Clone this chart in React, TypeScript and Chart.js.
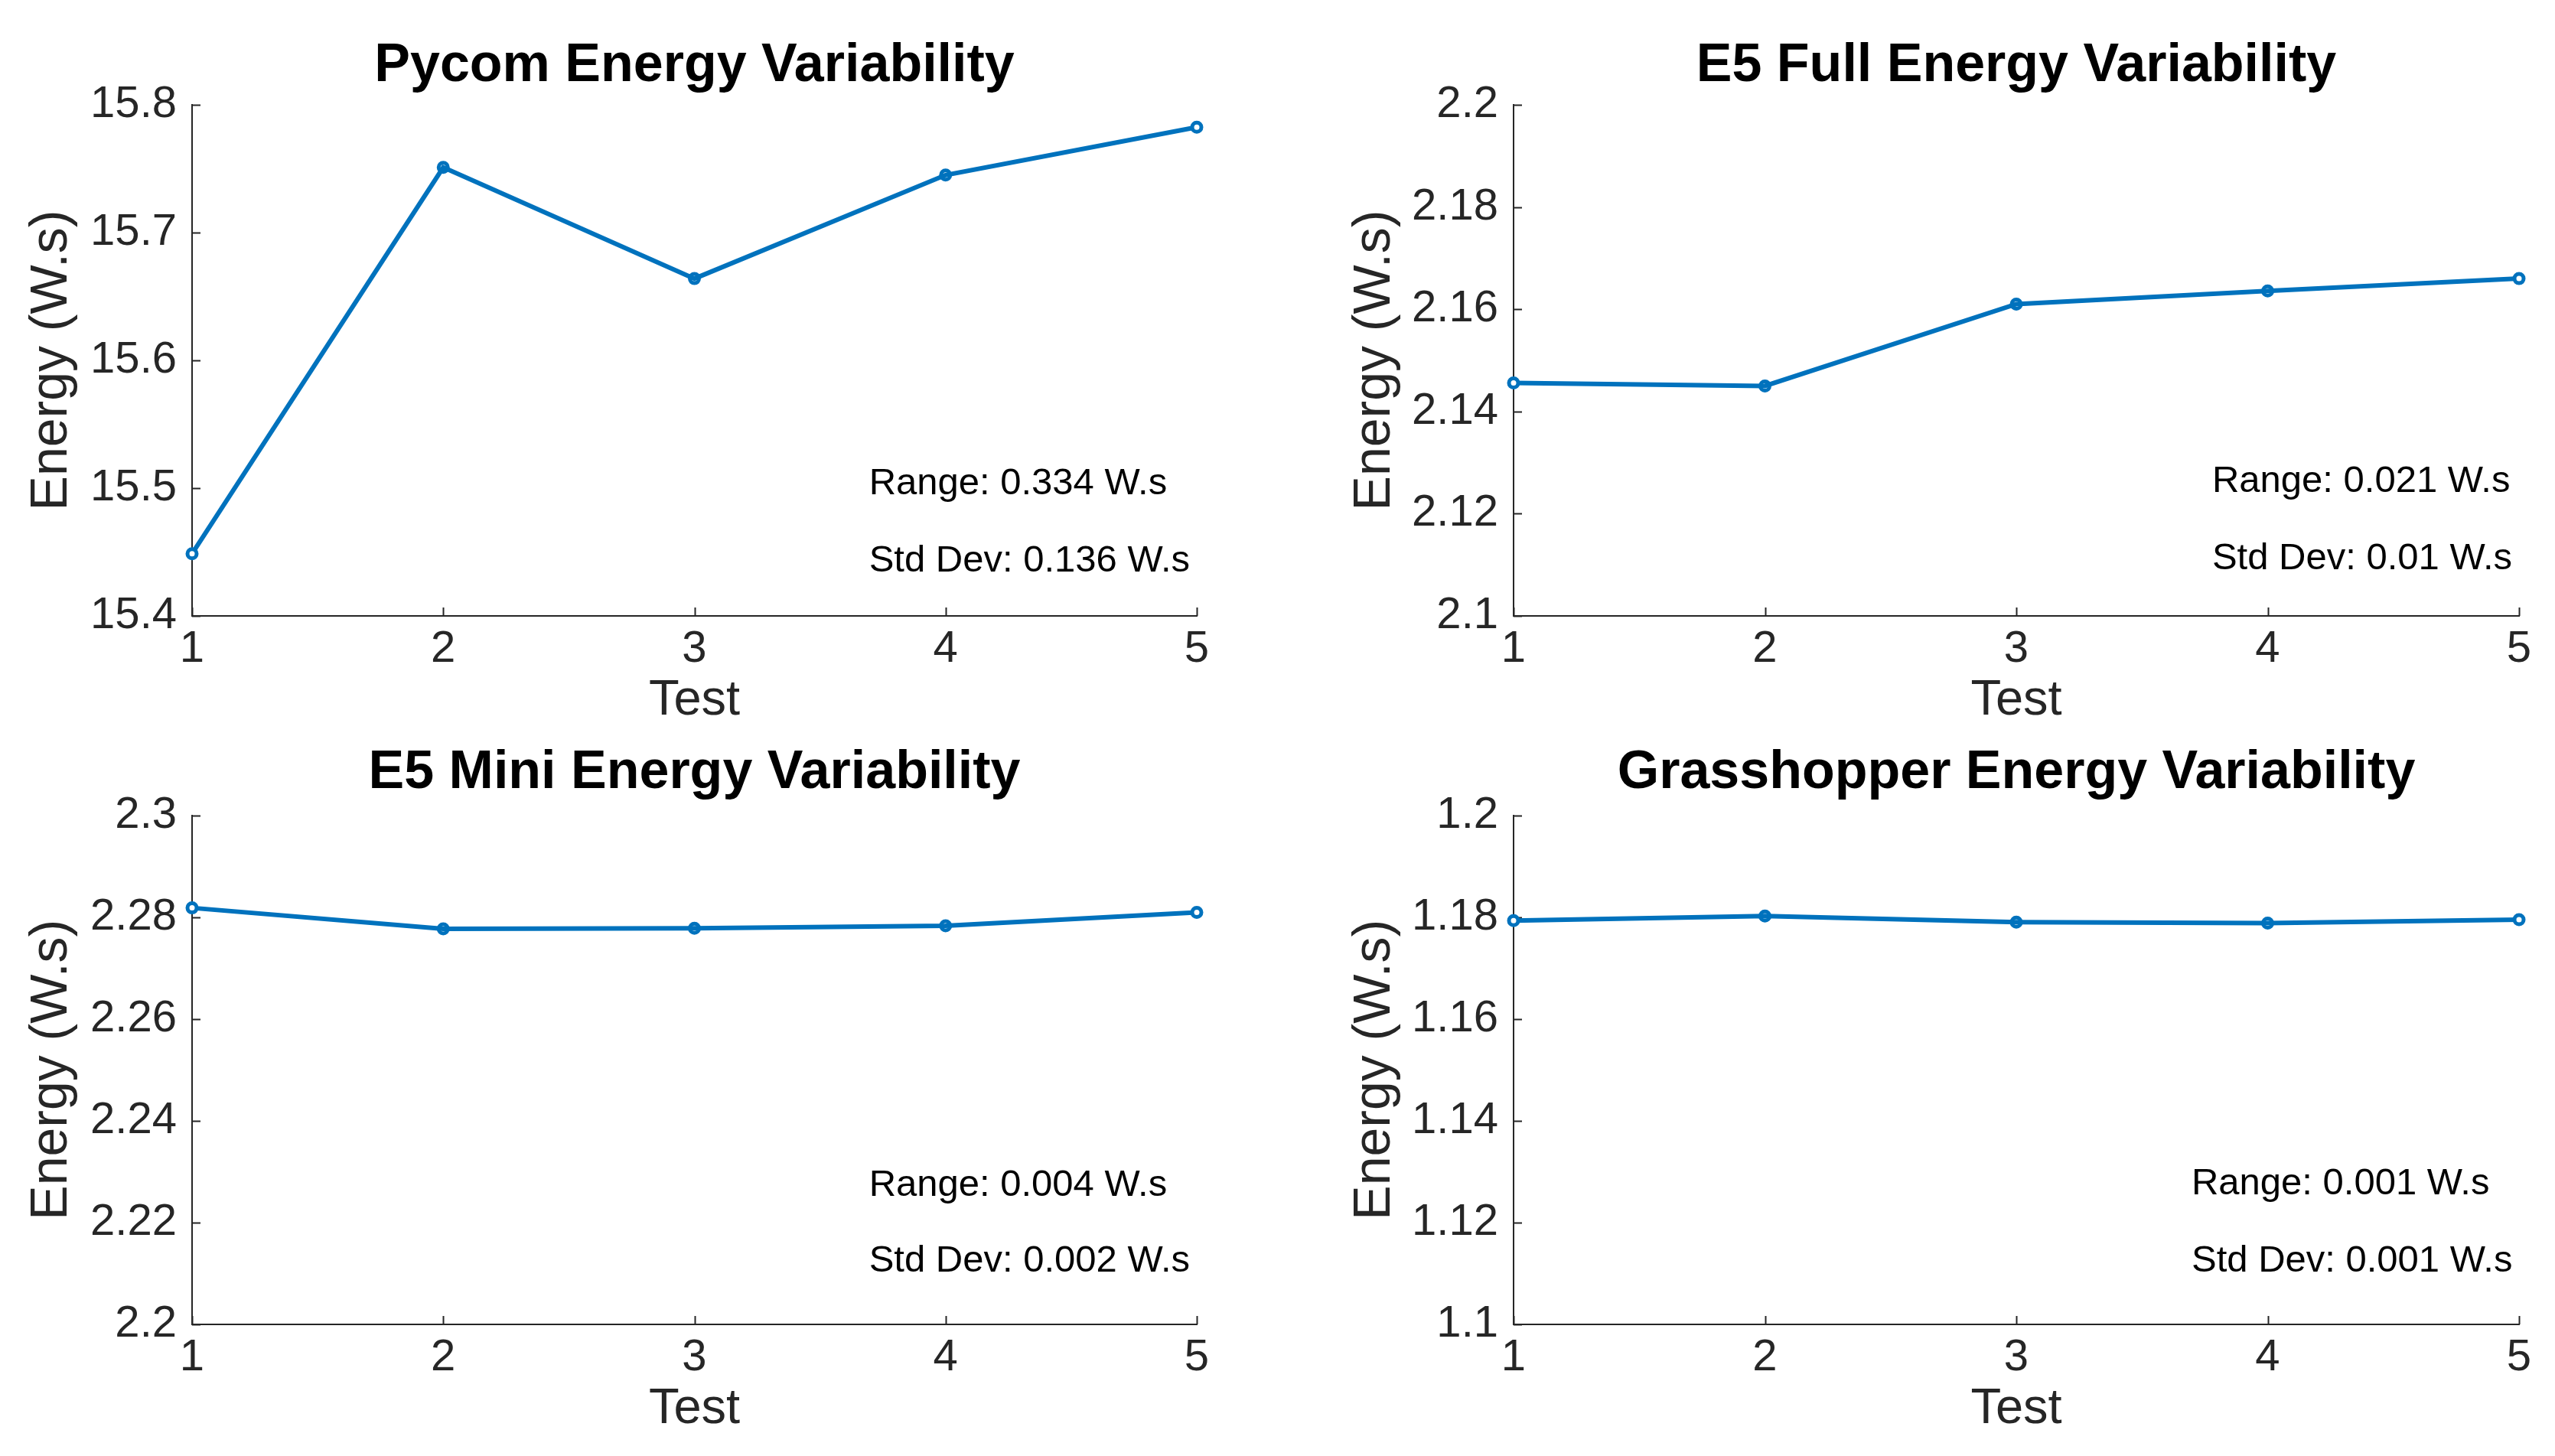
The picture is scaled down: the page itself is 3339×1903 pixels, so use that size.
import React, { useEffect, useRef } from "react";
import { Chart, registerables } from "chart.js";

Chart.register(...registerables);

// ---------- data ----------
const tests = [1, 2, 3, 4, 5];
const xTicks = [1, 2, 3, 4, 5];

const pycomEnergy = [15.4487, 15.751, 15.664, 15.745, 15.7825];
const e5FullEnergy = [2.1456, 2.145, 2.161, 2.1636, 2.166];
const e5MiniEnergy = [2.2818, 2.2777, 2.2778, 2.2783, 2.2809];
const grasshopperEnergy = [1.1793, 1.1802, 1.179, 1.1788, 1.1795];

const pycomTicks = [15.4, 15.5, 15.6, 15.7, 15.8];
const e5FullTicks = [2.1, 2.12, 2.14, 2.16, 2.18, 2.2];
const e5MiniTicks = [2.2, 2.22, 2.24, 2.26, 2.28, 2.3];
const grasshopperTicks = [1.1, 1.12, 1.14, 1.16, 1.18, 1.2];

const titles = [
  "Pycom Energy Variability",
  "E5 Full Energy Variability",
  "E5 Mini Energy Variability",
  "Grasshopper Energy Variability",
];
const rangeTexts = ["Range: 0.334 W.s", "Range: 0.021 W.s", "Range: 0.004 W.s", "Range: 0.001 W.s"];
const stdTexts = ["Std Dev: 0.136 W.s", "Std Dev: 0.01 W.s", "Std Dev: 0.002 W.s", "Std Dev: 0.001 W.s"];
const xLabel = "Test";
const yLabel = "Energy (W.s)";

// ---------- styling / layout ----------
const FONT = '"Liberation Sans", Arial, Helvetica, sans-serif';
const BLUE = "#0072BD";
const AX = "#262626";

const layoutLeft = { x: 0, w: 1669, areaL: 251, areaR: 1564, yTitleMid: 68.4 };
const layoutRight = { x: 1669, w: 1670, areaL: 309, areaR: 1623, yTitleMid: 127.9 };
const layoutTop = { y: 0, h: 951, areaT: 137, areaB: 805, titleMid: 86.7, xTitleMid: 916 };
const layoutBottom = { y: 951, h: 952, areaT: 114.5, areaB: 780, titleMid: 59.7, xTitleMid: 891 };

// annotation anchors in data coordinates (left / baseline)
const notePlacement = [
  { x: 3.695, rangeY: 15.495, stdY: 15.435 },
  { x: 3.779, rangeY: 2.1242, stdY: 2.1091 },
  { x: 3.695, rangeY: 2.2253, stdY: 2.2103 },
  { x: 3.697, rangeY: 1.1255, stdY: 1.1104 },
];

const panels = [
  { values: pycomEnergy, ticks: pycomTicks, col: layoutLeft, row: layoutTop },
  { values: e5FullEnergy, ticks: e5FullTicks, col: layoutRight, row: layoutTop },
  { values: e5MiniEnergy, ticks: e5MiniTicks, col: layoutLeft, row: layoutBottom },
  { values: grasshopperEnergy, ticks: grasshopperTicks, col: layoutRight, row: layoutBottom },
];

function Panel({ index }: { index: number }) {
  const ref = useRef<HTMLCanvasElement | null>(null);
  const p = panels[index];
  const { col, row } = p;

  useEffect(() => {
    if (!ref.current) return;
    const W = col.w;
    const H = row.h;
    const xScaleH = row.xTitleMid + 32.5 - row.areaB;
    const titlePadTop = row.titleMid - 35;
    const titlePadBottom = row.areaT - 70 - titlePadTop;
    const last = p.values.length - 1;
    const note = notePlacement[index];

    const innerTicks = {
      id: "innerTicks" + index,
      beforeDatasetsDraw(chart: any) {
        const { ctx, chartArea, scales } = chart;
        const x = scales.x;
        const y = scales.y;
        ctx.save();
        ctx.strokeStyle = AX;
        ctx.lineWidth = 2;
        ctx.beginPath();
        x.ticks.forEach((t: any) => {
          const px = Math.round(x.getPixelForValue(t.value)) + 0.5;
          ctx.moveTo(px, chartArea.bottom);
          ctx.lineTo(px, chartArea.bottom - 11);
        });
        y.ticks.forEach((t: any) => {
          const py = Math.round(y.getPixelForValue(t.value)) + 0.5;
          ctx.moveTo(chartArea.left, py);
          ctx.lineTo(chartArea.left + 11, py);
        });
        ctx.stroke();
        ctx.restore();
      },
    };

    const notes = {
      id: "notes" + index,
      afterDatasetsDraw(chart: any) {
        const { ctx, scales } = chart;
        ctx.save();
        ctx.font = `49px ${FONT}`;
        ctx.fillStyle = "#000";
        ctx.textAlign = "left";
        ctx.textBaseline = "alphabetic";
        const px = scales.x.getPixelForValue(note.x);
        ctx.fillText(rangeTexts[index], px, scales.y.getPixelForValue(note.rangeY));
        ctx.fillText(stdTexts[index], px, scales.y.getPixelForValue(note.stdY));
        ctx.restore();
      },
    };

    const chart = new Chart(ref.current, {
      type: "line",
      data: {
        datasets: [
          {
            data: tests.map((t, i) => ({ x: t, y: p.values[i] })),
            borderColor: BLUE,
            borderWidth: 6,
            pointRadius: 6,
            pointBorderWidth: 5,
            pointBorderColor: BLUE,
            pointBackgroundColor: (c: any) =>
              c.dataIndex === 0 || c.dataIndex === last ? "#ffffff" : "rgba(0,0,0,0)",
            fill: false,
            tension: 0,
            clip: false as any,
          },
        ],
      },
      options: {
        animation: false,
        responsive: false,
        devicePixelRatio: 1,
        events: [],
        layout: {
          padding: { left: 0, top: 0, right: W - col.areaR, bottom: H - (row.areaB + xScaleH) },
        },
        plugins: {
          legend: { display: false },
          tooltip: { enabled: false },
          title: {
            display: true,
            text: titles[index],
            fullSize: false,
            color: "#000",
            font: { family: FONT, size: 70, weight: "bold", lineHeight: 1 },
            padding: { top: titlePadTop, bottom: titlePadBottom },
          },
        },
        scales: {
          x: {
            type: "linear",
            min: xTicks[0],
            max: xTicks[xTicks.length - 1],
            afterBuildTicks: (s: any) => {
              s.ticks = xTicks.map((v) => ({ value: v }));
            },
            afterFit: (s: any) => {
              s.height = xScaleH;
            },
            grid: { display: false, drawTicks: false },
            border: { display: true, color: AX, width: 2 },
            ticks: {
              font: { family: FONT, size: 58 },
              color: AX,
              padding: 9,
              maxRotation: 0,
              autoSkip: false,
              callback: (v: any) => String(v),
            },
            title: {
              display: true,
              text: xLabel,
              color: AX,
              font: { family: FONT, size: 65, lineHeight: 1 },
              padding: { top: 0, bottom: 0 },
            },
          },
          y: {
            type: "linear",
            min: p.ticks[0],
            max: p.ticks[p.ticks.length - 1],
            afterBuildTicks: (s: any) => {
              s.ticks = p.ticks.map((v) => ({ value: v }));
            },
            afterFit: (s: any) => {
              s.width = col.areaL;
            },
            grid: { display: false, drawTicks: false },
            border: { display: true, color: AX, width: 2 },
            ticks: {
              font: { family: FONT, size: 58 },
              color: AX,
              padding: 20,
              autoSkip: false,
              callback: (v: any) => String(v),
            },
            title: {
              display: true,
              text: yLabel,
              color: AX,
              font: { family: FONT, size: 68, lineHeight: 1 },
              padding: { top: col.yTitleMid - 34, bottom: 0 },
            },
          },
        },
      } as any,
      plugins: [innerTicks, notes],
    });
    return () => chart.destroy();
  }, []);

  return (
    <canvas
      ref={ref}
      width={col.w}
      height={row.h}
      style={{ position: "absolute", left: col.x, top: row.y, width: col.w, height: row.h }}
    />
  );
}

export default function App() {
  return (
    <div
      style={{
        position: "absolute",
        left: 0,
        top: 0,
        width: 3339,
        height: 1903,
        background: "#ffffff",
        overflow: "hidden",
      }}
    >
      {panels.map((_, i) => (
        <Panel key={i} index={i} />
      ))}
    </div>
  );
}
